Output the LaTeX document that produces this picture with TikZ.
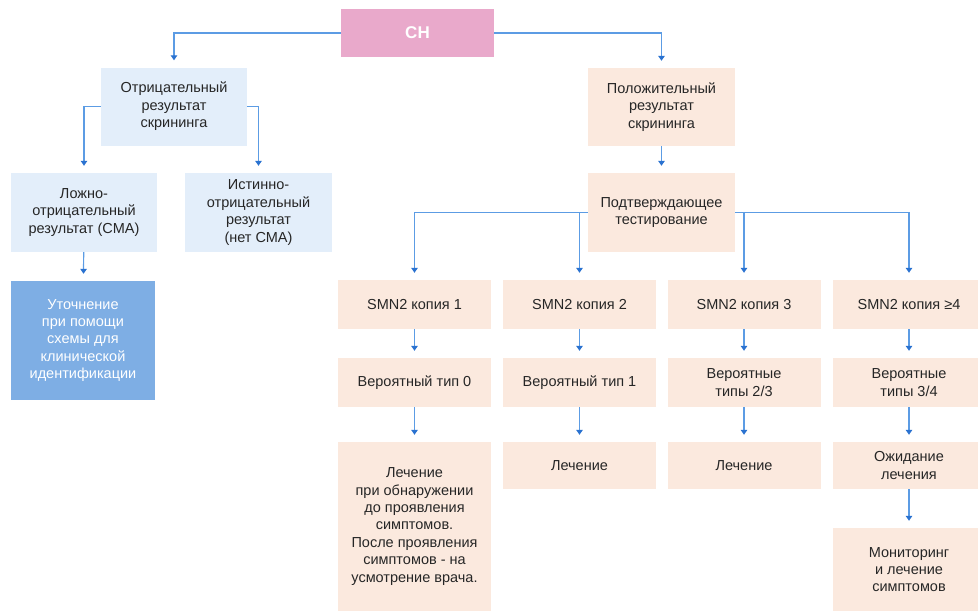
\documentclass[tikz,border=0pt]{standalone}
\usepackage{fontspec}
\setmainfont{Liberation Sans}
\usetikzlibrary{arrows.meta}

\definecolor{chpink}{HTML}{E9A9CB}
\definecolor{negfill}{HTML}{E3EEFA}
\definecolor{clarfill}{HTML}{7EAEE4}
\definecolor{posfill}{HTML}{FBE9DE}
\definecolor{linkblue}{HTML}{5C9CE4}
\definecolor{tipblue}{HTML}{2A72D0}
\definecolor{txtgray}{HTML}{262626}

\tikzset{
  box/.style={inner sep=0pt, align=center, text=txtgray, font=\fontsize{14.5}{17.4}\selectfont},
  negbox/.style={box, fill=negfill},
  posbox/.style={box, fill=posfill},
  link/.style={draw=linkblue, line width=1.2pt, -{Triangle[tipblue, width=6.5pt, length=5pt]}, shorten >=7pt},
}

\begin{document}
\begin{tikzpicture}[x=1pt, y=-1pt]
\useasboundingbox (0,0) rectangle (978,613);

% top
\node[box, fill=chpink, text=white, font=\fontsize{17}{20}\selectfont\bfseries, minimum width=153pt, minimum height=48pt] (ch) at (417.5,33) {СН};

% negative branch
\node[negbox, minimum width=146pt, minimum height=78pt] (neg) at (174,106.5) {Отрицательный\\результат\\скрининга};
\node[negbox, minimum width=146pt, minimum height=79pt] (falseneg) at (84,212.5) {Ложно-\\отрицательный\\результат (СМА)};
\node[negbox, minimum width=147pt, minimum height=79pt] (trueneg) at (258.5,212.5) {Истинно-\\отрицательный\\результат\\(нет СМА)};
\node[box, fill=clarfill, text=white, minimum width=144pt, minimum height=119pt] (clarify) at (83,340.5) {Уточнение\\при помощи\\схемы для\\клинической\\идентификации};

% positive branch
\node[posbox, minimum width=147pt, minimum height=78pt] (pos) at (661.5,107) {Положительный\\результат\\скрининга};
\node[posbox, minimum width=147pt, minimum height=79pt] (confirm) at (661.5,212.5) {Подтверждающее\\тестирование};

\foreach \x/\cp/\tp/\side [count=\i] in {414.5/1/{Вероятный тип 0}/west, 579.5/2/{Вероятный тип 1}/west, 744/3/{Вероятные\\типы 2/3}/east, 909/{≥4}/{Вероятные\\типы 3/4}/east}{
  \node[posbox, minimum width=153pt, minimum height=49pt] (copy\i) at (\x,304.5) {SMN2 копия \cp};
  \node[posbox, minimum width=153pt, minimum height=49pt] (type\i) at (\x,382.5) {\tp};
  \draw[link] (confirm.\side) -| (copy\i.north);
  \draw[link] (copy\i) -- (type\i);
}

\node[posbox, minimum width=153pt, minimum height=169pt] (treat1) at (414.5,526.5) {Лечение\\при обнаружении\\до проявления\\симптомов.\\После проявления\\симптомов - на\\усмотрение врача.};
\node[posbox, minimum width=153pt, minimum height=47pt] (treat2) at (579.5,465.5) {Лечение};
\node[posbox, minimum width=153pt, minimum height=47pt] (treat3) at (744,465.5) {Лечение};
\node[posbox, minimum width=153pt, minimum height=47pt] (treat4) at (909,465.5) {Ожидание\\лечения};
\node[posbox, minimum width=153pt, minimum height=83pt] (monitor) at (909,569.5) {Мониторинг\\и лечение\\симптомов};

% connectors
\draw[link] (ch.west) -| (neg.north);
\draw[link] (ch.east) -| (pos.north);
\draw[link] (neg.west) -| (falseneg.north);
\draw[link] (neg.east) -| (trueneg.north);
\draw[link] (falseneg) -- (clarify);
\draw[link] (pos) -- (confirm);
\foreach \i in {1,...,4}{\draw[link] (type\i) -- (treat\i);}
\draw[link] (treat4) -- (monitor);
\end{tikzpicture}
\end{document}
